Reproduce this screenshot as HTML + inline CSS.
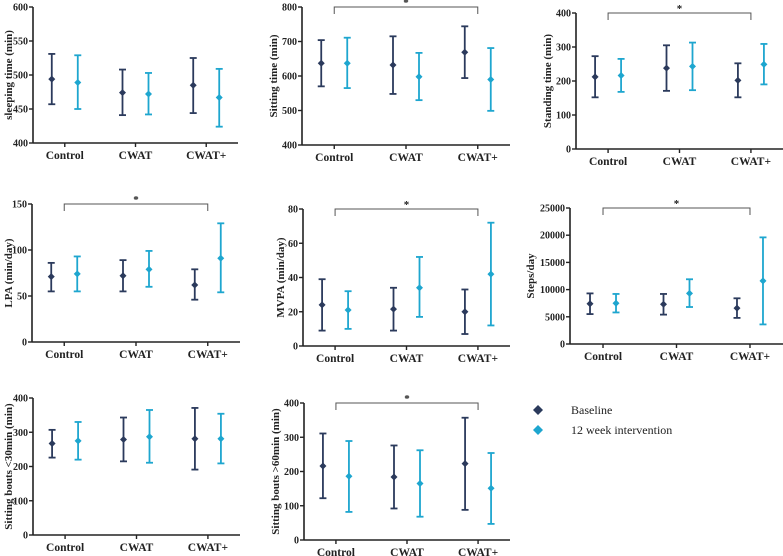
<!DOCTYPE html>
<html><head><meta charset="utf-8">
<style>
html,body{margin:0;padding:0;background:#fff;}
svg{display:block;}
svg text{font-family:"Liberation Serif","Times New Roman",Times,serif;}
</style></head>
<body>
<svg id="fig" width="783" height="556" viewBox="0 0 783 556"></svg>
<script>
const categories = ["Control","CWAT","CWAT+"];
const seriesNames = ["Baseline","12 week intervention"];
const titles = ["sleeping time (min)","Sitting time (min)","Standing time (min)","LPA (min/day)","MVPA (min/day)","Steps/day","Sitting bouts <30min (min)","Sitting bouts >60min (min)"];
const yMins = [400,400,0,0,0,0,0,0];
const yMaxs = [600,800,400,150,80,25000,400,400];
const yStepsArr = [50,100,100,50,20,5000,100,100];
const significant = [false,true,true,true,true,true,false,true];
const baseMean = [[494,474,485],[637,632,669],[212,238,202],[71,72,62],[24,21.5,20],[7400,7300,6600],[267,279,281],[216,184,223]];
const baseLow  = [[457,441,444],[570,548,594],[152,171,152],[55,55,46],[9,9,7],[5500,5400,4800],[226,215,191],[122,92,88]];
const baseHigh = [[531,508,525],[704,715,744],[273,305,252],[86,89,79],[39,34,33],[9300,9200,8400],[307,343,371],[311,276,357]];
const intMean  = [[489,472,467],[637,598,590],[216,243,249],[74,79,91],[21,34,42],[7500,9300,11600],[275,287,281],[186,165,151]];
const intLow   = [[450,442,424],[565,530,499],[168,173,190],[55,60,54],[10,17,12],[5800,6800,3600],[220,211,209],[82,68,47]];
const intHigh  = [[529,503,509],[711,667,681],[265,313,309],[93,99,129],[32,52,72],[9200,11900,19600],[330,365,354],[289,262,254]];

const layout = [
 {ax:33,top:7,bot:143,xe:238},{ax:302,top:7,bot:145,xe:510},{ax:576,top:13,bot:149,xe:783},
 {ax:32,top:204,bot:342,xe:240},{ax:303,top:209,bot:346,xe:510},{ax:570,top:208,bot:344,xe:783},
 {ax:33,top:398,bot:535,xe:240},{ax:304,top:403,bot:540,xe:510}
];
const C1="#2b3a5c", C2="#1ea6cf", AX="#222";
const FONT='Liberation Serif, Times New Roman, serif';
const svg=document.getElementById('fig');
const NS="http://www.w3.org/2000/svg";
function mk(tag,attrs,parent){const e=document.createElementNS(NS,tag);for(const k in attrs)e.setAttribute(k,attrs[k]);if(tag==='text')e.setAttribute('font-family',FONT);(parent||svg).appendChild(e);return e;}

layout.forEach((L,p)=>{
  const g=mk('g',{});
  
  
  const y=v=>L.bot-(v-yMins[p])/(yMaxs[p]-yMins[p])*(L.bot-L.top);
  const span=L.xe-L.ax;
  const xc=i=>L.ax+span*(0.155+0.345*i);
  const ya=mk('line',{x1:L.ax,y1:L.top,x2:L.ax,y2:L.bot,stroke:AX,'stroke-width':1.6},g);
  
  const xa=mk('line',{x1:L.ax,y1:L.bot,x2:L.xe,y2:L.bot,stroke:AX,'stroke-width':1.6},g);
  
  let maxLen=0;
  for(let v=yMins[p];v<=yMaxs[p]+1e-9;v+=yStepsArr[p]){
    mk('line',{x1:L.ax-4,y1:y(v),x2:L.ax,y2:y(v),stroke:AX,'stroke-width':1.4},g);
    const t=mk('text',{x:L.ax-5,y:y(v)+3.5,'text-anchor':'end','font-size':10,'font-weight':'bold',fill:'#222'},g);
    t.textContent=v;
    maxLen=Math.max(maxLen,String(v).length);
    
  }
  const tx=Math.max(12,L.ax-8-maxLen*5.6);
  const tt=mk('text',{x:0,y:0,'text-anchor':'middle','font-size':11,'font-weight':'bold',fill:'#222',transform:`translate(${tx},${(L.top+L.bot)/2}) rotate(-90)`},g);
  tt.textContent=titles[p];
  
  categories.forEach((c,i)=>{
    mk('line',{x1:xc(i),y1:L.bot,x2:xc(i),y2:L.bot+4,stroke:AX,'stroke-width':1.4},g);
    const t=mk('text',{x:xc(i),y:L.bot+16,'text-anchor':'middle','font-size':11.5,'font-weight':'bold',fill:'#222'},g);
    t.textContent=c;
    
    [[baseMean,baseLow,baseHigh,C1,-13],[intMean,intLow,intHigh,C2,13]].forEach((s,k)=>{
      const x=xc(i)+s[4];
      const eg=mk('g',{},g);
      
      
      const lo=y(s[1][p][i]),hi=y(s[2][p][i]),m=y(s[0][p][i]);
      mk('line',{x1:x,y1:lo,x2:x,y2:hi,stroke:s[3],'stroke-width':1.8},eg);
      mk('line',{x1:x-3.5,y1:lo,x2:x+3.5,y2:lo,stroke:s[3],'stroke-width':1.8},eg);
      mk('line',{x1:x-3.5,y1:hi,x2:x+3.5,y2:hi,stroke:s[3],'stroke-width':1.8},eg);
      mk('path',{d:`M${x} ${m-3.5}L${x+3.5} ${m}L${x} ${m+3.5}L${x-3.5} ${m}Z`,fill:s[3]},eg);
    });
  });
  if(significant[p]){
    const by=L.top;
    const b=mk('path',{d:`M${xc(0)} ${by+7}V${by}H${xc(2)}V${by+7}`,fill:'none',stroke:'#555','stroke-width':1},g);
    
    const s=mk('text',{x:(xc(0)+xc(2))/2,y:by-1,'text-anchor':'middle','font-size':11,'font-weight':'bold',fill:'#222'},g);
    s.textContent='*';
    
  }
});
const lg=mk('g',{});

[[C1,410],[C2,430]].forEach((d,k)=>{
  const eg=mk('g',{},lg);
  
  mk('path',{d:`M538 ${d[1]-5}L543 ${d[1]}L538 ${d[1]+5}L533 ${d[1]}Z`,fill:d[0]},eg);
  const t=mk('text',{x:571,y:d[1]+4,'font-size':12,fill:'#222'},eg);
  t.textContent=seriesNames[k];
});
</script>
</body></html>
